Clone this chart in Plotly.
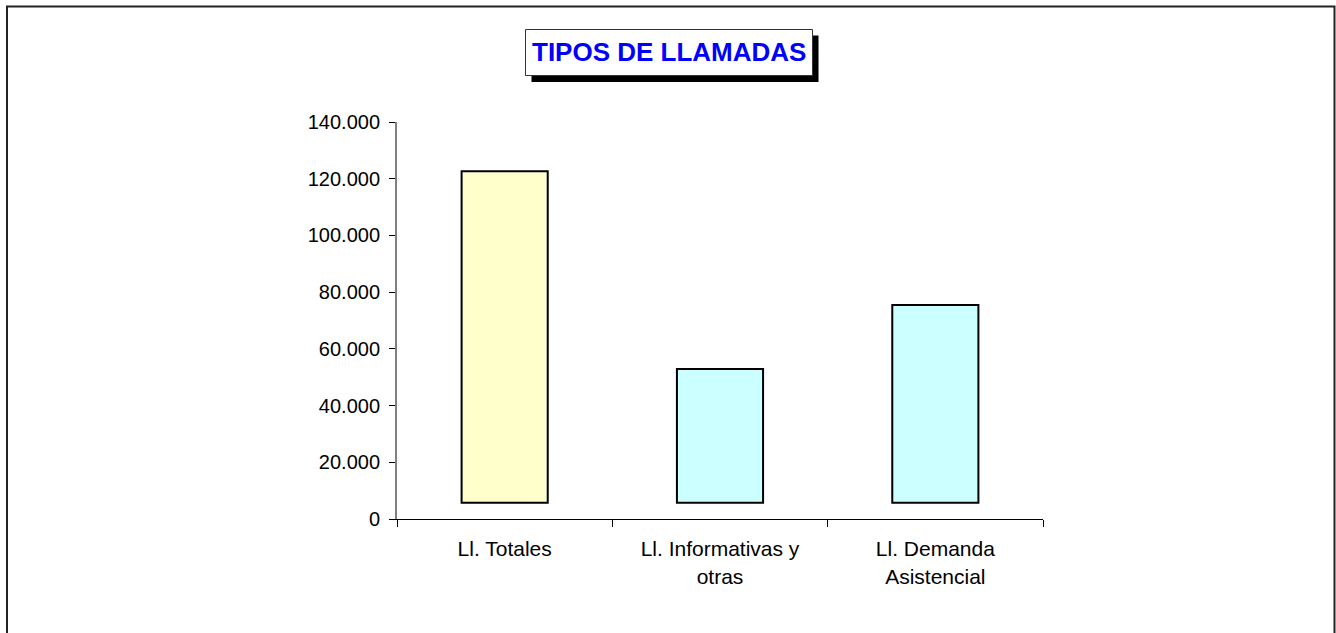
import plotly.graph_objects as go

# ---- data ----
categories = ["Ll. Totales", "Ll. Informativas y<br>otras", "Ll. Demanda<br>Asistencial"]
bar_base = 5700
bar_heights = [116950, 47200, 69800]
bar_colors = ["#FFFFCC", "#CCFFFF", "#CCFFFF"]
y_ticks = [0, 20000, 40000, 60000, 80000, 100000, 120000, 140000]
title_text = "TIPOS DE LLAMADAS"

FONT = "Liberation Sans, Arial, sans-serif"
W, H = 1336, 633
L, R, T, B = 397, 1043, 122, 519  # plot area pixel bounds


def px(x):
    return (x - L) / (R - L)


def py(y):
    return (B - y) / (B - T)


fig = go.Figure()
fig.add_trace(go.Bar(
    x=categories,
    y=bar_heights,
    base=bar_base,
    width=0.4,
    marker=dict(color=bar_colors, line=dict(color="#000000", width=2)),
    hoverinfo="skip",
))

shapes = [
    # outer chart border
    dict(type="rect", xref="paper", yref="paper",
         x0=px(7), x1=px(1334.5), y0=py(6.5), y1=py(660),
         line=dict(color="#222222", width=2), fillcolor="rgba(0,0,0,0)"),
    # title shadow
    dict(type="rect", xref="paper", yref="paper",
         x0=px(531.5), x1=px(818.5), y0=py(35.5), y1=py(82),
         line=dict(width=0), fillcolor="#000000"),
    # title box
    dict(type="rect", xref="paper", yref="paper",
         x0=px(525.5), x1=px(812.5), y0=py(29.5), y1=py(75.5),
         line=dict(color="#333333", width=1), fillcolor="#FFFFFF"),
]

fig.update_layout(
    width=W, height=H, autosize=False,
    margin=dict(l=L, r=W - R, t=T, b=H - B, pad=0),
    paper_bgcolor="#FFFFFF", plot_bgcolor="#FFFFFF",
    separators=",.",
    showlegend=False,
    font=dict(family=FONT, size=20, color="#000000"),
    shapes=shapes,
    annotations=[dict(
        text="<b>" + title_text + "</b>", xref="paper", yref="paper",
        x=px(669), y=py(51.5), xanchor="center", yanchor="middle",
        showarrow=False, font=dict(family=FONT, size=26, color="#0000FF"),
    )],
    bargap=0.6,
)

fig.update_yaxes(
    range=[0, 140000], tickvals=y_ticks, tickformat=",d",
    showgrid=False, zeroline=False,
    showline=True, linecolor="#808080", linewidth=2,
    ticks="outside", ticklen=6, tickcolor="#000000", tickwidth=1,
    ticklabelstandoff=5,
    tickfont=dict(family=FONT, size=20, color="#000000"),
)
fig.update_xaxes(
    type="category", range=[-0.5, 2.5],
    showgrid=False, zeroline=False,
    showline=True, linecolor="#000000", linewidth=1,
    ticks="outside", ticklen=7, tickcolor="#000000", tickson="boundaries",
    ticklabelstandoff=11,
    tickfont=dict(family=FONT, size=21, color="#000000"),
)

fig.write_html(
    "out.html",
    config={"displayModeBar": False},
    post_script="document.body.style.margin='0px';document.body.style.overflow='hidden';",
)
